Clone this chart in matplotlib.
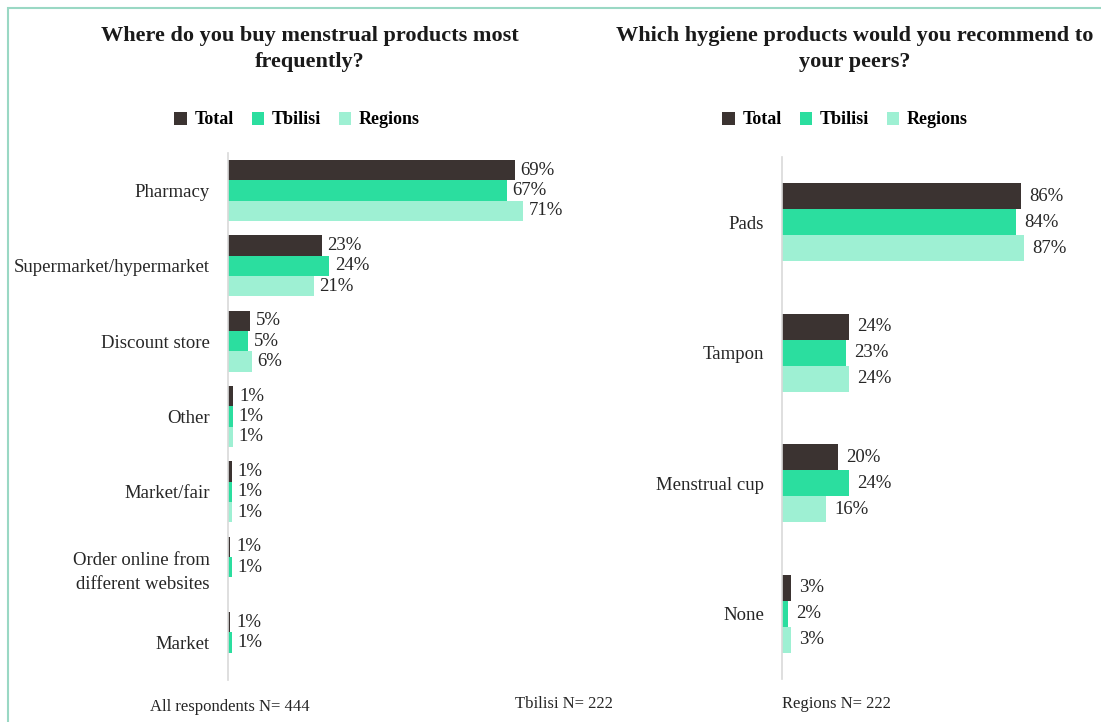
import numpy as np
import matplotlib.pyplot as plt
from matplotlib.patches import Rectangle, Patch

plt.rcParams['font.family'] = ['Liberation Serif', 'DejaVu Serif']

# where products are bought
buy_cats = ["Pharmacy", "Supermarket/hypermarket", "Discount store", "Other",
            "Market/fair", "Order online from\ndifferent websites", "Market"]
buy_total = [69, 22.6, 5.3, 1.3, 1.0, 0.6, 0.6]
buy_tbilisi = [67, 24.3, 4.8, 1.1, 0.9, 0.9, 0.9]
buy_regions = [71, 20.6, 5.8, 1.1, 0.9, 0, 0]

# recommended products
rec_cats = ["Pads", "Tampon", "Menstrual cup", "None"]
rec_total = [86, 24, 20, 3.2]
rec_tbilisi = [84, 23, 24, 2.2]
rec_regions = [87, 24, 16, 3.2]

series = ["Total", "Tbilisi", "Regions"]
colors = ["#3b3331", "#2bde9f", "#9ef0d3"]
txt_color = "#262626"

W, H = 1101, 722
fig = plt.figure(figsize=(W / 100, H / 100), dpi=100)


def px_axes(x0, x1, y0, y1):
    return fig.add_axes([x0 / W, 1 - y1 / H, (x1 - x0) / W, (y1 - y0) / H])


def draw_bars(ax, cats, vals, bar_h, xmax, gap):
    n = len(cats)
    y = np.arange(n)
    for i, (v, c) in enumerate(zip(vals, colors)):
        pos = y + (i - 1) * bar_h
        for p, val in zip(pos, v):
            if val <= 0:
                continue
            ax.barh(p, val, height=bar_h, color=c, edgecolor="none")
            ax.annotate(f"{round(val):.0f}%", (val, p), xytext=(gap, 0),
                        textcoords="offset points", va="center", ha="left",
                        fontsize=13.5, color=txt_color, annotation_clip=False)
    ax.set_ylim(n - 0.5, -0.5)
    ax.set_xlim(0, xmax)
    ax.set_yticks(y)
    ax.set_yticklabels(cats, fontsize=13.5, color=txt_color, linespacing=1.5)
    ax.tick_params(axis="y", length=0, pad=13)
    ax.set_xticks([])
    for s in ["top", "right", "bottom"]:
        ax.spines[s].set_visible(False)
    ax.spines["left"].set_color("#d9d9d9")
    ax.spines["left"].set_linewidth(1.2)


ax1 = px_axes(228, 540, 153, 680)
draw_bars(ax1, buy_cats, [buy_total, buy_tbilisi, buy_regions], 0.27, 75, 4)

ax2 = px_axes(782, 1060, 157, 679)
draw_bars(ax2, rec_cats, [rec_total, rec_tbilisi, rec_regions], 0.2, 100, 6)

# titles
fig.text(310 / W, 1 - 49 / H, "Where do you buy menstrual products most\nfrequently?",
         ha="center", va="center", fontsize=16, fontweight="bold",
         color="#1a1a1a", linespacing=1.45)
fig.text(855 / W, 1 - 49 / H, "Which hygiene products would you recommend to\nyour peers?",
         ha="center", va="center", fontsize=16, fontweight="bold",
         color="#1a1a1a", linespacing=1.45)

# legends
handles = [Patch(facecolor=c, edgecolor="none") for c in colors]
for cx in (297, 845):
    fig.legend(handles, series, loc="center", bbox_to_anchor=(cx / W, 1 - 120 / H),
               ncol=3, frameon=False, handlelength=0.7, handleheight=0.7,
               handletextpad=0.4, columnspacing=1.0,
               prop={"size": 13, "weight": "bold"})

# sample sizes
fig.text(150 / W, 1 - 707 / H, "All respondents N= 444", ha="left", va="center",
         fontsize=12, color=txt_color)
fig.text(515 / W, 1 - 704 / H, "Tbilisi N= 222", ha="left", va="center",
         fontsize=12, color=txt_color)
fig.text(782 / W, 1 - 704 / H, "Regions N= 222", ha="left", va="center",
         fontsize=12, color=txt_color)

# outer frame
fig.patches.append(Rectangle((8 / W, -0.1), 1.2, 1 - 8 / H + 0.1,
                             transform=fig.transFigure, fill=False,
                             edgecolor="#9ad8c4", linewidth=1.5))

fig.savefig("out.png", dpi=100)
